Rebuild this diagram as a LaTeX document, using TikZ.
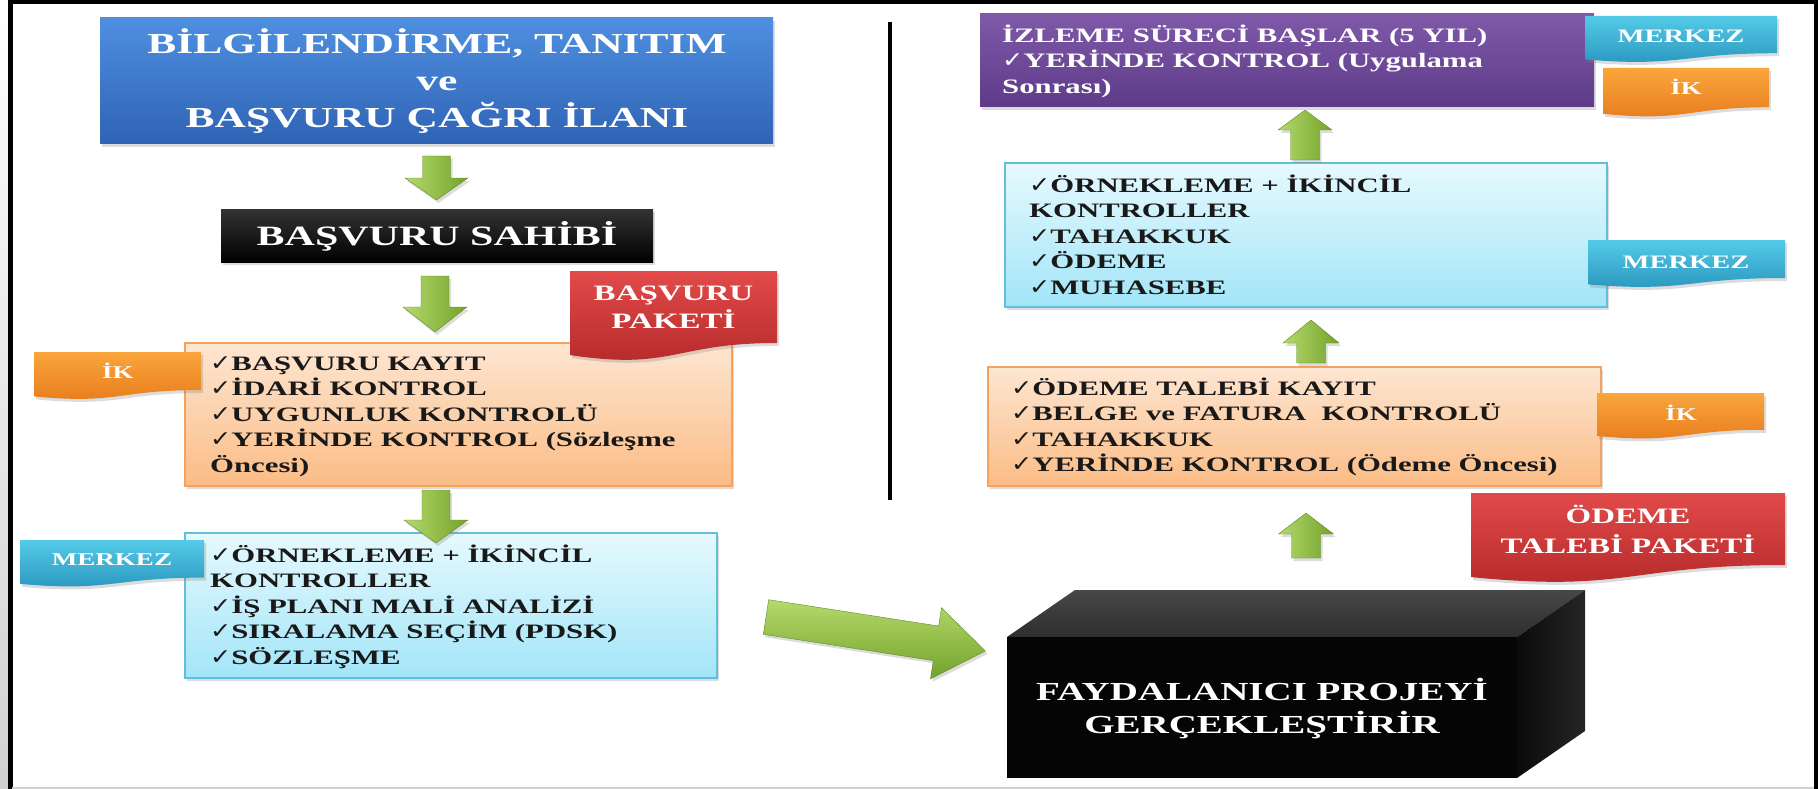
\documentclass[tikz,border=0pt]{standalone}
\usepackage{fontspec}
\setmainfont{Liberation Serif}[FakeStretch=1.5]
\newfontfamily\chkfont{DejaVu Sans}[FakeStretch=1.15]
\usetikzlibrary{shadows}

\definecolor{blueT}{HTML}{4F8FDF}
\definecolor{blueB}{HTML}{2F63B5}
\definecolor{orgFillT}{HTML}{FDE6D2}
\definecolor{orgFillB}{HTML}{FBBC85}
\definecolor{orgLine}{HTML}{F4A25E}
\definecolor{cyFillT}{HTML}{E6F9FE}
\definecolor{cyFillB}{HTML}{A2E5F8}
\definecolor{cyLine}{HTML}{62BEDA}
\definecolor{purT}{HTML}{8059A9}
\definecolor{purB}{HTML}{5D3B89}
\definecolor{tagOT}{HTML}{F9A63C}
\definecolor{tagOB}{HTML}{E77A1C}
\definecolor{tagCT}{HTML}{55CAE8}
\definecolor{tagCB}{HTML}{2894BC}
\definecolor{redT}{HTML}{E24A4A}
\definecolor{redB}{HTML}{B32828}
\definecolor{grL}{HTML}{B4DA6C}
\definecolor{grD}{HTML}{74A22C}

\newcommand\ck{{\chkfont\fontsize{22}{22}\selectfont ✓}}

% document-shaped tag: x1, y1, x2, height, top colour, bottom colour
\newcommand\tagshape[6]{%
  \path[shd, top color=#5, bottom color=#6]
    (#1,#2) -- (#3,#2) -- (#3,{#2+0.80*#4})
    .. controls ({(#1+#3)/2},{#2+0.80*#4}) and ({(#1+#3)/2},{#2+1.107*#4}) .. (#1,{#2+0.934*#4}) -- cycle;}

% block arrow: style, x, y (tail middle), angle, length, head length, shaft half width, head half width
\newcommand\garrow[8]{%
  \begin{scope}[shift={(#2,#3)},rotate=#4]
    \path[#1] (0,-#7) -- ({#5-#6},-#7) -- ({#5-#6},-#8) -- (#5,0) -- ({#5-#6},#8) -- ({#5-#6},#7) -- (0,#7) -- cycle;
  \end{scope}}

\begin{document}
\begin{tikzpicture}[x=1pt,y=-1pt,
  shd/.style={drop shadow={opacity=0.28,shadow xshift=2pt,shadow yshift=-3pt}},
  box/.style={inner sep=0pt, shd},
  orgbox/.style={box, draw=orgLine, line width=1.5pt, top color=orgFillT, bottom color=orgFillB},
  cybox/.style={box, draw=cyLine, line width=1.5pt, top color=cyFillT, bottom color=cyFillB},
  ltxt/.style={inner sep=0pt, anchor=north west, align=left, text=black!90, font=\bfseries\fontsize{20.5}{25.5}\selectfont},
  ctxt/.style={inner sep=0pt, anchor=north, align=center, text=white},
  tagtxt/.style={inner sep=0pt, anchor=base, text=white, font=\bfseries\fontsize{18}{18}\selectfont},
  vgr/.style={shd, left color=grL, right color=grD, draw=grD!85!black, line width=0.4pt},
  dgr/.style={shd, top color=grL, bottom color=grD, draw=grD!85!black, line width=0.4pt},
]
\useasboundingbox (0,0) rectangle (1818,789);

% frame
\shade[top color=white, bottom color=black!18] (0,0) rectangle (8,789);
\draw[line width=3.5pt] (8,2) -- (1818,2);
\draw[line width=4.5pt] (10.5,0) -- (10.5,789);
\draw[line width=4pt] (1816,0) -- (1816,789);
\draw[black!18, line width=2pt] (12,788) -- (1814,788);

% divider
\draw[line width=4pt] (890,22) -- (890,500);

% ---------- left column ----------
\node[box, top color=blueT, bottom color=blueB, minimum width=673pt, minimum height=126pt] (info) at (436.5,81) {};
\node[ctxt, font=\bfseries\fontsize{29}{37}\selectfont] (infot) at (437,25)
  {\rule{0pt}{28pt}BİLGİLENDİRME, TANITIM\\ ve\\ BAŞVURU ÇAĞRI İLANI};

\node[box, top color=black!80, bottom color=black, minimum width=432pt, minimum height=53pt] (owner) at (437,235.5) {};
\node[ctxt, anchor=base, font=\bfseries\fontsize{28}{28}\selectfont] (ownert) at (437,245) {BAŞVURU SAHİBİ};

\node[orgbox, minimum width=547pt, minimum height=143pt] (chk1) at (458.5,414.5) {};
\node[ltxt] (chk1t) at (210,351)
  {\rule{0pt}{19pt}\ck BAŞVURU KAYIT\\ \ck İDARİ KONTROL\\ \ck UYGUNLUK KONTROLÜ\\ \ck YERİNDE KONTROL (Sözleşme\\ Öncesi)};

\node[cybox, minimum width=532pt, minimum height=145pt] (chk2) at (451,605.5) {};
\node[ltxt] (chk2t) at (210,543)
  {\rule{0pt}{19pt}\ck ÖRNEKLEME + İKİNCİL\\ KONTROLLER\\ \ck İŞ PLANI MALİ ANALİZİ\\ \ck SIRALAMA SEÇİM (PDSK)\\ \ck SÖZLEŞME};

% tags left
\tagshape{570}{271}{777}{90}{redT}{redB}
\node[ctxt, font=\bfseries\fontsize{22}{28}\selectfont] (pkt1) at (673.5,279) {\rule{0pt}{21pt}BAŞVURU\\ PAKETİ};
\tagshape{34}{352}{201}{47.5}{tagOT}{tagOB}
\node[tagtxt] (ik1) at (118,378) {İK};
\tagshape{20}{540}{204}{47}{tagCT}{tagCB}
\node[tagtxt] (mk1) at (112,565) {MERKEZ};

% arrows left
\garrow{vgr}{436.5}{156}{-90}{44}{22}{14}{31.5}
\garrow{vgr}{435}{276}{-90}{56}{25}{14}{32}
\garrow{vgr}{436}{490}{-90}{53}{23}{14}{32}

% big arrow
\garrow{dgr}{766}{617}{-8.8}{222}{50}{17.5}{36}

% ---------- right column ----------
\node[box, top color=purT, bottom color=purB, minimum width=614pt, minimum height=93pt] (mon) at (1287,60.5) {};
\node[ltxt, text=white] (mont) at (1002,23)
  {\rule{0pt}{19pt}İZLEME SÜRECİ BAŞLAR (5 YIL)\\ \ck YERİNDE KONTROL (Uygulama\\ Sonrası)};

\node[cybox, minimum width=602pt, minimum height=144pt] (chk3) at (1306,235) {};
\node[ltxt] (chk3t) at (1029,173)
  {\rule{0pt}{19pt}\ck ÖRNEKLEME + İKİNCİL\\ KONTROLLER\\ \ck TAHAKKUK\\ \ck ÖDEME\\ \ck MUHASEBE};

\node[orgbox, minimum width=613pt, minimum height=119pt] (chk4) at (1294.5,426.5) {};
\node[ltxt] (chk4t) at (1011,376)
  {\rule{0pt}{19pt}\ck ÖDEME TALEBİ KAYIT\\ \ck BELGE ve FATURA\ \ KONTROLÜ\\ \ck TAHAKKUK\\ \ck YERİNDE KONTROL (Ödeme Öncesi)};

% 3D box
\shade[top color=black!72, bottom color=black!82] (1007,637) -- (1075,590) -- (1585,590) -- (1517,637) -- cycle;
\shade[left color=black!96, right color=black!85] (1517,637) -- (1585,590) -- (1585,731) -- (1517,778) -- cycle;
\node[fill=black!98, inner sep=0pt, minimum width=510pt, minimum height=141pt] (proj) at (1262,707.5) {};
\node[ctxt, font=\bfseries\fontsize{26}{33}\selectfont] (projt) at (1262,675)
  {\rule{0pt}{25pt}FAYDALANICI PROJEYİ\\ GERÇEKLEŞTİRİR};

% tags right
\tagshape{1585}{16}{1777}{46.5}{tagCT}{tagCB}
\node[tagtxt, font=\bfseries\fontsize{19}{19}\selectfont] (mk2) at (1681,43) {MERKEZ};
\tagshape{1603}{68}{1769}{49}{tagOT}{tagOB}
\node[tagtxt] (ik2) at (1686,95) {İK};
\tagshape{1588}{240}{1785}{47.5}{tagCT}{tagCB}
\node[tagtxt, font=\bfseries\fontsize{19}{19}\selectfont] (mk3) at (1686,268) {MERKEZ};
\tagshape{1597}{393}{1764}{46}{tagOT}{tagOB}
\node[tagtxt] (ik3) at (1681,420) {İK};
\tagshape{1471}{493}{1785}{90}{redT}{redB}
\node[ctxt, font=\bfseries\fontsize{22}{30}\selectfont] (pkt2) at (1628,502) {\rule{0pt}{21pt}ÖDEME\\ TALEBİ PAKETİ};

% arrows right (upward)
\garrow{vgr}{1305}{160}{90}{50}{20}{14.5}{27}
\garrow{vgr}{1311}{363}{90}{43}{23}{14.5}{28}
\garrow{vgr}{1306}{558}{90}{45}{21}{14.5}{27.5}
\end{tikzpicture}
\end{document}
